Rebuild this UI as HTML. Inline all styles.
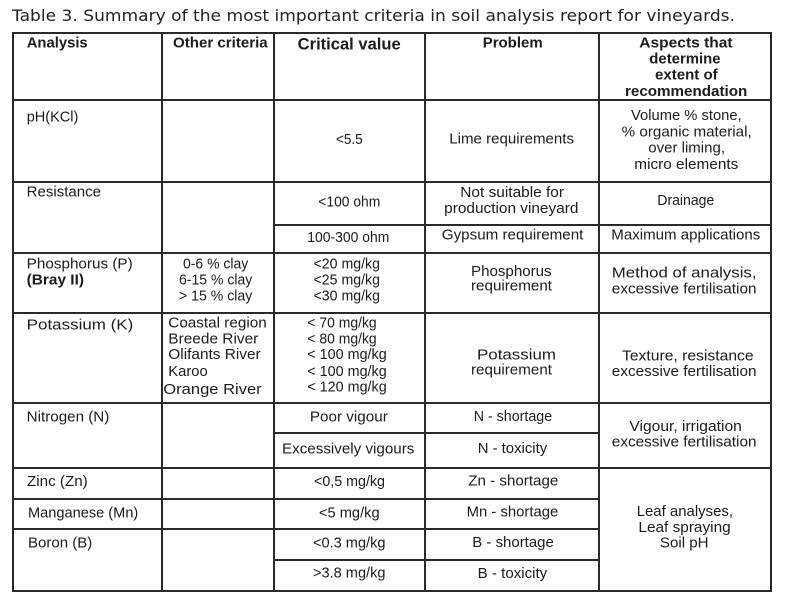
<!DOCTYPE html>
<html><head><meta charset="utf-8"><style>
html,body{margin:0;padding:0;background:#fff;}
svg{display:block;}
text{font-family:"Liberation Sans",Arial,sans-serif;font-size:15px;fill:#1c1c1c;}
.b{font-weight:bold;}
.c{text-anchor:middle;}
.t{font-family:"DejaVu Sans","Liberation Sans",sans-serif;font-size:16px;fill:#222;}
rect.l{fill:#2a2a2a;}
</style></head><body>
<svg width="786" height="601" viewBox="0 0 786 601" xmlns="http://www.w3.org/2000/svg">
<rect x="0" y="0" width="786" height="601" fill="#fff"/>
<text class="t" x="12" y="21" textLength="723" lengthAdjust="spacingAndGlyphs">Table 3. Summary of the most important criteria in soil analysis report for vineyards.</text>

<!-- vertical lines -->
<rect class="l" x="12" y="32" width="2" height="560"/>
<rect class="l" x="161" y="32" width="2" height="560"/>
<rect class="l" x="273" y="32" width="2" height="560"/>
<rect class="l" x="424" y="32" width="2" height="560"/>
<rect class="l" x="598" y="32" width="2" height="560"/>
<rect class="l" x="770" y="32" width="2" height="560"/>
<!-- horizontal lines -->
<rect class="l" x="12" y="32" width="760" height="2"/>
<rect class="l" x="12" y="99" width="760" height="2"/>
<rect class="l" x="12" y="181" width="760" height="2"/>
<rect class="l" x="273" y="224" width="499" height="2"/>
<rect class="l" x="12" y="252" width="760" height="2"/>
<rect class="l" x="12" y="312" width="760" height="2"/>
<rect class="l" x="12" y="402" width="760" height="2"/>
<rect class="l" x="273" y="432" width="327" height="2"/>
<rect class="l" x="12" y="467" width="760" height="2"/>
<rect class="l" x="12" y="498" width="588" height="2"/>
<rect class="l" x="12" y="528" width="588" height="2"/>
<rect class="l" x="273" y="559" width="327" height="2"/>
<rect class="l" x="12" y="590" width="760" height="2"/>

<!-- header -->
<text class="b" x="26.7" y="47.5" textLength="61" lengthAdjust="spacingAndGlyphs">Analysis</text>
<text class="b" x="173" y="47.5" textLength="94.7" lengthAdjust="spacingAndGlyphs">Other criteria</text>
<text class="b" x="297.7" y="49.3" style="font-size:16.5px" textLength="103" lengthAdjust="spacingAndGlyphs">Critical value</text>
<text class="b" x="482.7" y="47.7" textLength="60" lengthAdjust="spacingAndGlyphs">Problem</text>
<text class="b" x="639.3" y="47.7" textLength="93.3" lengthAdjust="spacingAndGlyphs">Aspects that</text>
<text class="b" x="649.3" y="63.3" textLength="71.3" lengthAdjust="spacingAndGlyphs">determine</text>
<text class="b" x="655" y="79.3" textLength="62.7" lengthAdjust="spacingAndGlyphs">extent of</text>
<text class="b" x="625" y="96" textLength="122.3" lengthAdjust="spacingAndGlyphs">recommendation</text>

<!-- pH -->
<text x="26.7" y="121.7" textLength="51.7" lengthAdjust="spacingAndGlyphs">pH(KCl)</text>
<text x="336" y="144" textLength="26.7" lengthAdjust="spacingAndGlyphs">&lt;5.5</text>
<text x="449.3" y="143.3" textLength="124.7" lengthAdjust="spacingAndGlyphs">Lime requirements</text>
<text x="631" y="120" textLength="110.7" lengthAdjust="spacingAndGlyphs">Volume % stone,</text>
<text x="621.7" y="136.3" textLength="130" lengthAdjust="spacingAndGlyphs">% organic material,</text>
<text x="648.3" y="152.3" textLength="76.7" lengthAdjust="spacingAndGlyphs">over liming,</text>
<text x="634.3" y="169" textLength="104" lengthAdjust="spacingAndGlyphs">micro elements</text>

<!-- Resistance -->
<text x="26.7" y="196.7" textLength="74.3" lengthAdjust="spacingAndGlyphs">Resistance</text>
<text x="318.3" y="206.6" textLength="62" lengthAdjust="spacingAndGlyphs">&lt;100 ohm</text>
<text x="460.3" y="197.2" textLength="103.7" lengthAdjust="spacingAndGlyphs">Not suitable for</text>
<text x="444.2" y="213.1" textLength="134.2" lengthAdjust="spacingAndGlyphs">production vineyard</text>
<text x="657.3" y="205.2" textLength="57" lengthAdjust="spacingAndGlyphs">Drainage</text>
<text x="307.3" y="242.2" textLength="82" lengthAdjust="spacingAndGlyphs">100-300 ohm</text>
<text x="441.8" y="239.6" textLength="141.6" lengthAdjust="spacingAndGlyphs">Gypsum requirement</text>
<text x="611.3" y="239.6" textLength="149" lengthAdjust="spacingAndGlyphs">Maximum applications</text>

<!-- Phosphorus -->
<text x="26.7" y="268.3" textLength="106" lengthAdjust="spacingAndGlyphs">Phosphorus (P)</text>
<text class="b" x="26.7" y="284.3" textLength="57.3" lengthAdjust="spacingAndGlyphs">(Bray II)</text>
<text x="183" y="268.3" textLength="65.3" lengthAdjust="spacingAndGlyphs">0-6 % clay</text>
<text x="179" y="284.3" textLength="73.3" lengthAdjust="spacingAndGlyphs">6-15 % clay</text>
<text x="179" y="300.7" textLength="73.3" lengthAdjust="spacingAndGlyphs">&gt; 15 % clay</text>
<text x="313.5" y="268.3" textLength="66.5" lengthAdjust="spacingAndGlyphs">&lt;20 mg/kg</text>
<text x="313.5" y="284.3" textLength="66.5" lengthAdjust="spacingAndGlyphs">&lt;25 mg/kg</text>
<text x="313.5" y="300.5" textLength="66.5" lengthAdjust="spacingAndGlyphs">&lt;30 mg/kg</text>
<text x="471" y="276.1" textLength="80.6" lengthAdjust="spacingAndGlyphs">Phosphorus</text>
<text x="471" y="290.3" textLength="81" lengthAdjust="spacingAndGlyphs">requirement</text>
<text x="611.8" y="277.7" textLength="144.7" lengthAdjust="spacingAndGlyphs">Method of analysis,</text>
<text x="611.8" y="293.3" textLength="144.7" lengthAdjust="spacingAndGlyphs">excessive fertilisation</text>

<!-- Potassium -->
<text x="26.7" y="329.3" textLength="106.6" lengthAdjust="spacingAndGlyphs">Potassium (K)</text>
<text x="168.3" y="327.3" textLength="98.4" lengthAdjust="spacingAndGlyphs">Coastal region</text>
<text x="168.3" y="343.3" textLength="90" lengthAdjust="spacingAndGlyphs">Breede River</text>
<text x="168.3" y="359" textLength="92.4" lengthAdjust="spacingAndGlyphs">Olifants River</text>
<text x="168.3" y="376" textLength="39.4" lengthAdjust="spacingAndGlyphs">Karoo</text>
<text x="163.3" y="394" textLength="98.4" lengthAdjust="spacingAndGlyphs">Orange River</text>
<text x="307.3" y="327.3" textLength="69.4" lengthAdjust="spacingAndGlyphs">&lt; 70 mg/kg</text>
<text x="307.3" y="343.3" textLength="69.4" lengthAdjust="spacingAndGlyphs">&lt; 80 mg/kg</text>
<text x="307.3" y="359" textLength="79.4" lengthAdjust="spacingAndGlyphs">&lt; 100 mg/kg</text>
<text x="307.3" y="376" textLength="79.4" lengthAdjust="spacingAndGlyphs">&lt; 100 mg/kg</text>
<text x="307.3" y="391.7" textLength="79.4" lengthAdjust="spacingAndGlyphs">&lt; 120 mg/kg</text>
<text x="477" y="359.6" textLength="79" lengthAdjust="spacingAndGlyphs">Potassium</text>
<text x="471" y="374.5" textLength="81" lengthAdjust="spacingAndGlyphs">requirement</text>
<text x="622" y="360.6" textLength="131.6" lengthAdjust="spacingAndGlyphs">Texture, resistance</text>
<text x="611.8" y="376.2" textLength="144.7" lengthAdjust="spacingAndGlyphs">excessive fertilisation</text>

<!-- Nitrogen -->
<text x="26.7" y="421.7" textLength="82.6" lengthAdjust="spacingAndGlyphs">Nitrogen (N)</text>
<text x="309.9" y="421.7" textLength="77.9" lengthAdjust="spacingAndGlyphs">Poor vigour</text>
<text x="282" y="453.3" textLength="132.4" lengthAdjust="spacingAndGlyphs">Excessively vigours</text>
<text x="473.7" y="420.8" textLength="78.5" lengthAdjust="spacingAndGlyphs">N - shortage</text>
<text x="477.7" y="452.8" textLength="69.5" lengthAdjust="spacingAndGlyphs">N - toxicity</text>
<text x="629.4" y="430.9" textLength="112.4" lengthAdjust="spacingAndGlyphs">Vigour, irrigation</text>
<text x="611.8" y="446.7" textLength="144.7" lengthAdjust="spacingAndGlyphs">excessive fertilisation</text>

<!-- Zinc -->
<text x="27" y="486" textLength="60.7" lengthAdjust="spacingAndGlyphs">Zinc (Zn)</text>
<text x="314" y="486" textLength="71" lengthAdjust="spacingAndGlyphs">&lt;0,5 mg/kg</text>
<text x="468.3" y="485.7" textLength="90" lengthAdjust="spacingAndGlyphs">Zn - shortage</text>

<!-- Manganese -->
<text x="28" y="517.3" textLength="110.3" lengthAdjust="spacingAndGlyphs">Manganese (Mn)</text>
<text x="319" y="517.3" textLength="60.6" lengthAdjust="spacingAndGlyphs">&lt;5 mg/kg</text>
<text x="466.6" y="516.7" textLength="91.7" lengthAdjust="spacingAndGlyphs">Mn - shortage</text>

<!-- Boron -->
<text x="28" y="547.7" textLength="64.3" lengthAdjust="spacingAndGlyphs">Boron (B)</text>
<text x="313" y="547.7" textLength="72.5" lengthAdjust="spacingAndGlyphs">&lt;0.3 mg/kg</text>
<text x="472.3" y="546.9" textLength="81.5" lengthAdjust="spacingAndGlyphs">B - shortage</text>
<text x="313" y="577.7" textLength="72.5" lengthAdjust="spacingAndGlyphs">&gt;3.8 mg/kg</text>
<text x="477.7" y="577.9" textLength="69.5" lengthAdjust="spacingAndGlyphs">B - toxicity</text>

<text x="636.7" y="516" textLength="96.3" lengthAdjust="spacingAndGlyphs">Leaf analyses,</text>
<text x="638.4" y="531.8" textLength="92.3" lengthAdjust="spacingAndGlyphs">Leaf spraying</text>
<text x="659.9" y="547.6" textLength="48.7" lengthAdjust="spacingAndGlyphs">Soil pH</text>
</svg>
</body></html>
